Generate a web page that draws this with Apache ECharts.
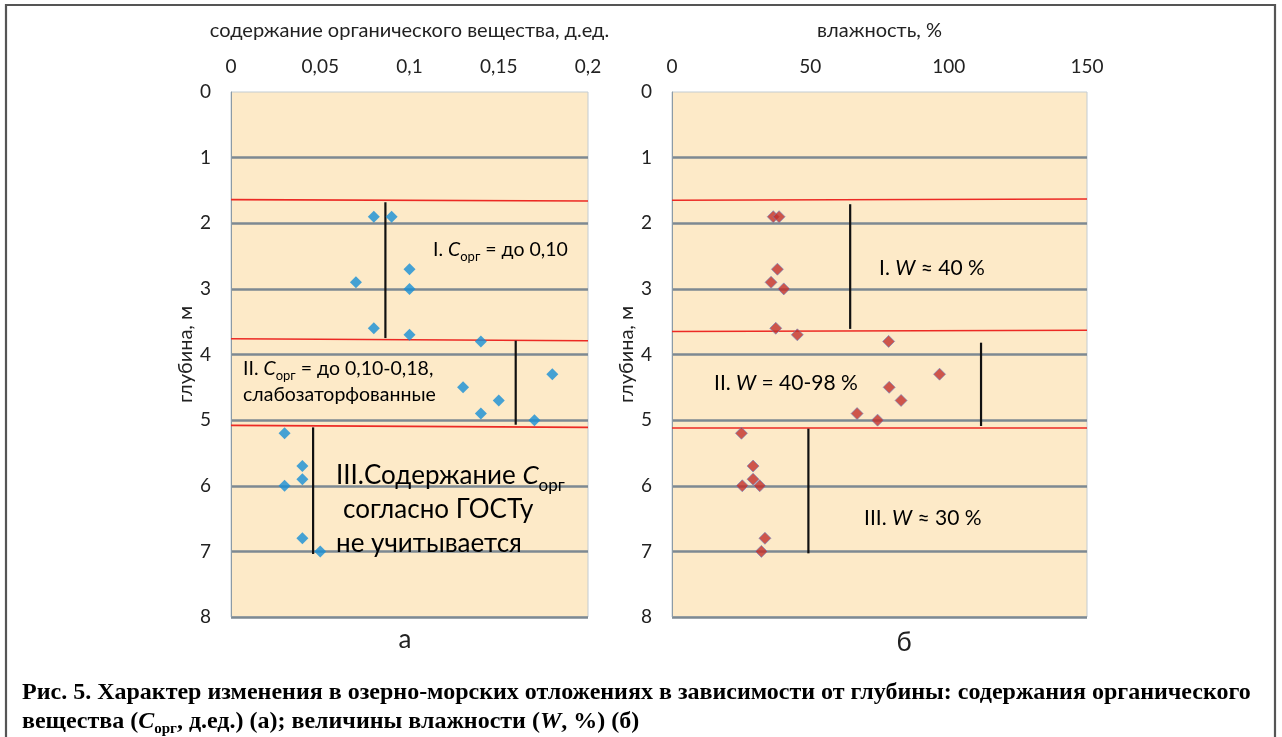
<!DOCTYPE html>
<html>
<head>
<meta charset="utf-8">
<script src="https://cdn.jsdelivr.net/npm/echarts@6/dist/echarts.min.js"></script>
<style>
  html, body { margin: 0; padding: 0; background: #fff; }
  #chart { width: 1282px; height: 737px; }
</style>
</head>
<body>
<div id="chart"></div>
<script>
// ---- Panel (а): organic matter content vs depth ----
const orgContent = [0.08, 0.09, 0.10, 0.07, 0.10, 0.08, 0.10, 0.14, 0.18, 0.13, 0.15, 0.14, 0.17, 0.03, 0.04, 0.04, 0.03, 0.04, 0.05];
const orgDepth   = [1.9, 1.9, 2.7, 2.9, 3.0, 3.6, 3.7, 3.8, 4.3, 4.5, 4.7, 4.9, 5.0, 5.2, 5.7, 5.9, 6.0, 6.8, 7.0];
// layer boundaries: depth at the left and right edge of the plot
const orgBoundLeft  = [1.64, 3.76, 5.08];
const orgBoundRight = [1.66, 3.79, 5.11];
// range bars of each layer
const orgRangeX      = [0.0865, 0.1595, 0.046];
const orgRangeTop    = [1.68, 3.79, 5.11];
const orgRangeBottom = [3.75, 5.07, 7.04];

// ---- Panel (б): moisture vs depth ----
const moisture   = [36.6, 38.7, 38.1, 35.8, 40.4, 37.5, 45.3, 78.3, 96.7, 78.5, 82.8, 66.9, 74.3, 25.1, 29.3, 29.3, 25.4, 31.7, 33.6, 32.3];
const moistDepth = [1.9, 1.9, 2.7, 2.9, 3.0, 3.6, 3.7, 3.8, 4.3, 4.5, 4.7, 4.9, 5.0, 5.2, 5.7, 5.9, 6.0, 6.0, 6.8, 7.0];
const moistBoundLeft  = [1.65, 3.65, 5.12];
const moistBoundRight = [1.63, 3.63, 5.12];
const moistRangeX      = [64.4, 111.7, 49.3];
const moistRangeTop    = [1.71, 3.82, 5.13];
const moistRangeBottom = [3.61, 5.09, 7.03];

// axis extents
const orgMax = 0.2, orgStep = 0.05;
const moistMax = 150, moistStep = 50;
const depthMax = 8, depthStep = 1;

const SANS = 'Lato, "Open Sans", "Noto Sans", sans-serif';
const SERIF = '"Liberation Serif", "DejaVu Serif", serif';
const TXT = '#222';

const comma = v => String(+v.toFixed(3)).replace('.', ',');

function xAxisFor(gridIndex, max, step, name) {
  return {
    gridIndex, type: 'value', position: 'top', min: 0, max, interval: step,
    name, nameLocation: 'middle', nameGap: 51,
    nameTextStyle: { fontFamily: SANS, fontSize: 20, color: TXT },
    axisLine: { show: false }, axisTick: { show: false }, splitLine: { show: false },
    axisLabel: { fontFamily: SANS, fontSize: 19, color: TXT, margin: 16, formatter: comma }
  };
}
function yAxisFor(gridIndex) {
  return {
    gridIndex, type: 'value', inverse: true, min: 0, max: depthMax, interval: depthStep,
    name: 'глубина, м', nameLocation: 'middle', nameGap: 35, nameRotate: 90,
    nameTextStyle: { fontFamily: SANS, fontSize: 20, color: TXT },
    axisLine: { show: true, lineStyle: { color: '#8c9ba6', width: 1 } },
    axisTick: { show: false },
    axisLabel: { fontFamily: SANS, fontSize: 19, color: TXT, margin: 20 },
    splitLine: { show: true, showMinLine: false, lineStyle: { color: '#7d8992', width: 2.5 } }
  };
}

function boundarySeries(axisIdx, xMax, left, right) {
  return left.map((d, i) => ({
    type: 'line', xAxisIndex: axisIdx, yAxisIndex: axisIdx, z: 3,
    symbol: 'none', silent: true,
    lineStyle: { color: '#ec2a24', width: 1.6 },
    data: [[0, d], [xMax, right[i]]]
  }));
}
function rangeSeries(axisIdx, xs, tops, bottoms) {
  return xs.map((x, i) => ({
    type: 'line', xAxisIndex: axisIdx, yAxisIndex: axisIdx, z: 4,
    symbol: 'none', silent: true,
    lineStyle: { color: '#111', width: 2.2 },
    data: [[x, tops[i]], [x, bottoms[i]]]
  }));
}

const richBase = {
  n:  { fontFamily: SANS, fontSize: 19.5, color: TXT, lineHeight: 26 },
  w:  { fontFamily: SANS, fontSize: 21, color: TXT, lineHeight: 26 },
  i:  { fontFamily: SANS, fontSize: 19.5, color: TXT, fontStyle: 'italic', lineHeight: 26 },
  iw: { fontFamily: SANS, fontSize: 21, color: TXT, fontStyle: 'italic', lineHeight: 26 },
  s:  { fontFamily: SANS, fontSize: 13, color: TXT, lineHeight: 26, verticalAlign: 'bottom' },
  N:  { fontFamily: SANS, fontSize: 26, color: TXT, lineHeight: 34 },
  I:  { fontFamily: SANS, fontSize: 26, color: TXT, fontStyle: 'italic', lineHeight: 34 },
  S:  { fontFamily: SANS, fontSize: 17, color: TXT, lineHeight: 36, verticalAlign: 'bottom' }
};
function note(x, y, text) {
  return { type: 'text', x, y, z: 10, style: { text, rich: richBase, verticalAlign: 'middle' } };
}

const capRich = {
  b:  { fontFamily: SERIF, fontWeight: 'bold', fontSize: 24, color: '#1a1a1a', lineHeight: 28 },
  bi: { fontFamily: SERIF, fontWeight: 'bold', fontStyle: 'italic', fontSize: 24, color: '#1a1a1a', lineHeight: 28 },
  bs: { fontFamily: SERIF, fontWeight: 'bold', fontSize: 15, color: '#1a1a1a', lineHeight: 30, verticalAlign: 'bottom' }
};

const chart = echarts.init(document.getElementById('chart'), null, { renderer: 'canvas' });

chart.setOption({
  animation: false,
  backgroundColor: '#fff',
  grid: [
    { left: 231, top: 92, width: 357, height: 525, show: true, backgroundColor: '#fdeac8', borderColor: '#c3ccd2', borderWidth: 1 },
    { left: 672, top: 92, width: 415, height: 525, show: true, backgroundColor: '#fdeac8', borderColor: '#c3ccd2', borderWidth: 1 }
  ],
  xAxis: [
    xAxisFor(0, orgMax, orgStep, 'содержание органического вещества, д.ед.'),
    xAxisFor(1, moistMax, moistStep, 'влажность, %')
  ],
  yAxis: [yAxisFor(0), yAxisFor(1)],
  series: [
    ...boundarySeries(0, orgMax, orgBoundLeft, orgBoundRight),
    ...boundarySeries(1, moistMax, moistBoundLeft, moistBoundRight),
    ...rangeSeries(0, orgRangeX, orgRangeTop, orgRangeBottom),
    ...rangeSeries(1, moistRangeX, moistRangeTop, moistRangeBottom),
    {
      type: 'scatter', xAxisIndex: 0, yAxisIndex: 0, z: 6,
      symbol: 'diamond', symbolSize: 12,
      itemStyle: { color: '#168fd6' },
      data: orgContent.map((v, i) => [v, orgDepth[i]])
    },
    {
      type: 'scatter', xAxisIndex: 1, yAxisIndex: 1, z: 6,
      symbol: 'diamond', symbolSize: 12,
      itemStyle: { color: '#c2302b', borderColor: '#6d86c4', borderWidth: 0.8 },
      data: moisture.map((v, i) => [v, moistDepth[i]])
    }
  ],
  graphic: [
    // outer frame
    { type: 'polyline', z: 1, shape: { points: [[6, 745], [6, 5], [1275, 5], [1275, 745]] },
      style: { stroke: '#555', lineWidth: 2.2, fill: null } },

    // panel (а) notes
    note(433, 250, '{n|I. }{i|C}{s|орг}{n| = до 0,10}'),
    note(243, 369, '{n|II. }{i|C}{s|орг}{n| = до 0,10-0,18,}'),
    note(243, 395, '{n|слабозаторфованные}'),
    note(336, 476, '{N|III.Содержание }{I|C}{S|орг}'),
    note(343, 510, '{N|согласно ГОСТу}'),
    note(336, 544, '{N|не учитывается}'),

    // panel (б) notes
    note(879, 268, '{w|I. }{iw|W}{w| ≈ 40 %}'),
    note(714, 383, '{w|II. }{iw|W}{w| = 40-98 %}'),
    note(864, 518, '{w|III. }{iw|W}{w| ≈ 30 %}'),

    // panel letters
    { type: 'text', x: 405, y: 640, z: 10, style: { text: 'а', fontFamily: SANS, fontSize: 26, fill: TXT, align: 'center', verticalAlign: 'middle' } },
    { type: 'text', x: 904, y: 643, z: 10, style: { text: 'б', fontFamily: SANS, fontSize: 26, fill: TXT, align: 'center', verticalAlign: 'middle' } },

    // figure caption
    { type: 'text', x: 22, y: 679, z: 10,
      style: { text: '{b|Рис. 5. Характер изменения в озерно-морских отложениях в зависимости от глубины: содержания органического}\n{b|вещества (}{bi|C}{bs|орг}{b|, д.ед.) (а); величины влажности (}{bi|W}{b|, %) (б)}',
               rich: capRich } }
  ]
});
</script>
</body>
</html>
